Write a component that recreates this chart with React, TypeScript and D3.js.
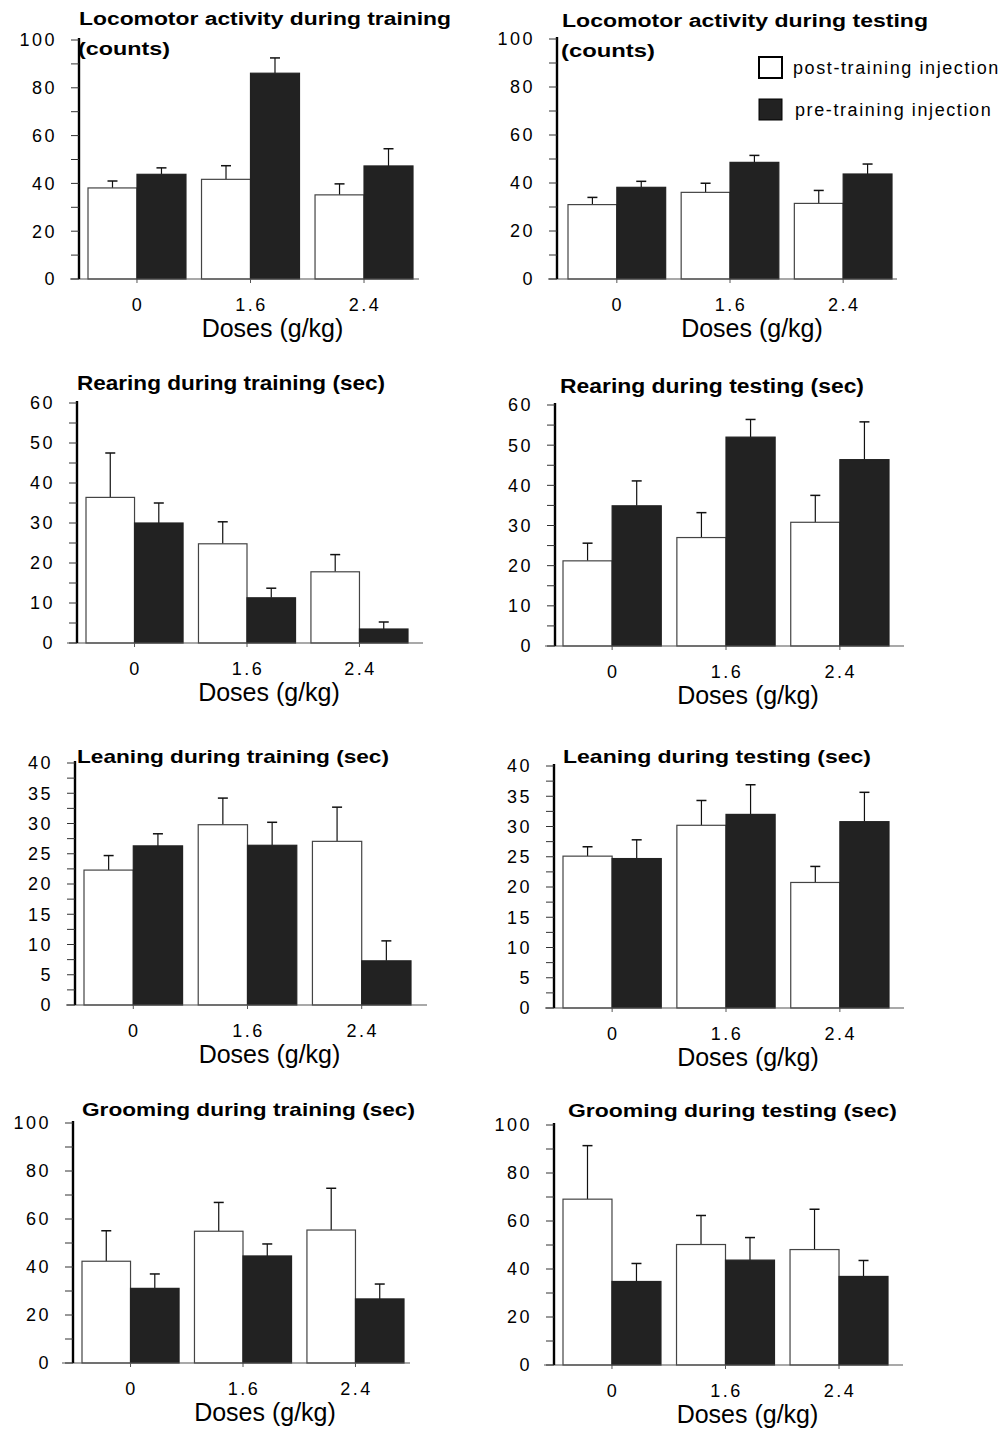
import React from "react";
import * as d3 from "d3";

// doses on the x axis
const doses = ["0", "1.6", "2.4"];

// locomotor activity (counts)
const locoTrainPost = [38.1, 41.7, 35.2];
const locoTrainPostErr = [2.9, 5.7, 4.6];
const locoTrainPre = [43.8, 86.1, 47.3];
const locoTrainPreErr = [2.7, 6.4, 7.2];

const locoTestPost = [31.0, 36.1, 31.5];
const locoTestPostErr = [3.0, 3.8, 5.4];
const locoTestPre = [38.2, 48.6, 43.75];
const locoTestPreErr = [2.5, 2.9, 4.15];

// rearing (sec)
const rearTrainPost = [36.4, 24.8, 17.8];
const rearTrainPostErr = [11.1, 5.5, 4.3];
const rearTrainPre = [30.0, 11.3, 3.5];
const rearTrainPreErr = [5.0, 2.4, 1.75];

const rearTestPost = [21.2, 27.0, 30.8];
const rearTestPostErr = [4.4, 6.2, 6.7];
const rearTestPre = [34.9, 52.0, 46.4];
const rearTestPreErr = [6.2, 4.4, 9.4];

// leaning (sec)
const leanTrainPost = [22.3, 29.8, 27.05];
const leanTrainPostErr = [2.4, 4.4, 5.65];
const leanTrainPre = [26.3, 26.4, 7.3];
const leanTrainPreErr = [2.0, 3.8, 3.3];

const leanTestPost = [25.1, 30.2, 20.75];
const leanTestPostErr = [1.55, 4.1, 2.65];
const leanTestPre = [24.7, 32.0, 30.8];
const leanTestPreErr = [3.1, 4.9, 4.85];

// grooming (sec)
const groomTrainPost = [42.4, 54.9, 55.4];
const groomTrainPostErr = [12.7, 12.0, 17.4];
const groomTrainPre = [31.1, 44.6, 26.7];
const groomTrainPreErr = [6.0, 5.0, 6.2];

const groomTestPost = [69.1, 50.2, 48.1];
const groomTestPostErr = [22.3, 12.1, 16.8];
const groomTestPre = [34.8, 43.7, 36.9];
const groomTestPreErr = [7.5, 9.4, 6.65];

// y axis ticks
const ticks100 = [0, 20, 40, 60, 80, 100];
const minor100 = d3.range(0, 101, 10);
const ticks60 = [0, 10, 20, 30, 40, 50, 60];
const minor60 = d3.range(0, 61, 5);
const ticks40 = [0, 5, 10, 15, 20, 25, 30, 35, 40];
const minor40 = d3.range(0, 40.1, 2.5);

const seriesNames = ["post-training injection", "pre-training injection"];

const FONT = "'Liberation Sans', Arial, Helvetica, sans-serif";
const DARK = "#222";

type Panel = {
  title: string[];
  titleX: number;
  titleY: number;
  titleW: number[];
  titleSize: number;
  post: number[];
  postErr: number[];
  pre: number[];
  preErr: number[];
  max: number;
  ticks: number[];
  minor: number[];
  axisX: number;
  yTop: number;
  y0: number;
  base: [number, number];
  band: [number, number];
};

const panels: Panel[] = [
  {
    title: ["Locomotor activity during training", "(counts)"], titleX: 79, titleY: 25, titleW: [372, 92], titleSize: 18,
    post: locoTrainPost, postErr: locoTrainPostErr, pre: locoTrainPre, preErr: locoTrainPreErr,
    max: 100, ticks: ticks100, minor: minor100,
    axisX: 79, yTop: 40, y0: 279, base: [70, 419], band: [88, 413],
  },
  {
    title: ["Locomotor activity during testing", "(counts)"], titleX: 562, titleY: 27, titleW: [366, 94], titleSize: 18,
    post: locoTestPost, postErr: locoTestPostErr, pre: locoTestPre, preErr: locoTestPreErr,
    max: 100, ticks: ticks100, minor: minor100,
    axisX: 557, yTop: 39, y0: 279, base: [548, 897], band: [568, 892],
  },
  {
    title: ["Rearing during training (sec)"], titleX: 77, titleY: 390, titleW: [308], titleSize: 20,
    post: rearTrainPost, postErr: rearTrainPostErr, pre: rearTrainPre, preErr: rearTrainPreErr,
    max: 60, ticks: ticks60, minor: minor60,
    axisX: 77, yTop: 403, y0: 643, base: [67, 423], band: [86, 408],
  },
  {
    title: ["Rearing during testing (sec)"], titleX: 560, titleY: 393, titleW: [304], titleSize: 20,
    post: rearTestPost, postErr: rearTestPostErr, pre: rearTestPre, preErr: rearTestPreErr,
    max: 60, ticks: ticks60, minor: minor60,
    axisX: 555, yTop: 405, y0: 646, base: [545, 904], band: [563, 889],
  },
  {
    title: ["Leaning during training (sec)"], titleX: 77, titleY: 763, titleW: [312], titleSize: 19,
    post: leanTrainPost, postErr: leanTrainPostErr, pre: leanTrainPre, preErr: leanTrainPreErr,
    max: 40, ticks: ticks40, minor: minor40,
    axisX: 75, yTop: 763, y0: 1005, base: [66, 427], band: [84, 411],
  },
  {
    title: ["Leaning during testing (sec)"], titleX: 563, titleY: 763, titleW: [308], titleSize: 19,
    post: leanTestPost, postErr: leanTestPostErr, pre: leanTestPre, preErr: leanTestPreErr,
    max: 40, ticks: ticks40, minor: minor40,
    axisX: 554, yTop: 766, y0: 1008, base: [545, 904], band: [563, 889],
  },
  {
    title: ["Grooming during training (sec)"], titleX: 82, titleY: 1116, titleW: [333], titleSize: 19,
    post: groomTrainPost, postErr: groomTrainPostErr, pre: groomTrainPre, preErr: groomTrainPreErr,
    max: 100, ticks: ticks100, minor: minor100,
    axisX: 73, yTop: 1123, y0: 1363, base: [62, 410], band: [82, 404],
  },
  {
    title: ["Grooming during testing (sec)"], titleX: 568, titleY: 1117, titleW: [329], titleSize: 19,
    post: groomTestPost, postErr: groomTestPostErr, pre: groomTestPre, preErr: groomTestPreErr,
    max: 100, ticks: ticks100, minor: minor100,
    axisX: 554, yTop: 1125, y0: 1365, base: [544, 903], band: [563, 888],
  },
];

const BarPanel = ({ p }: { p: Panel }) => {
  const x = d3.scaleBand<string>().domain(doses).range(p.band).paddingInner(0.137).paddingOuter(0);
  const inner = d3.scaleBand<string>().domain(["post", "pre"]).range([0, x.bandwidth()]);
  const y = d3.scaleLinear().domain([0, p.max]).range([p.y0, p.yTop]);
  const bw = inner.bandwidth();
  const mid = (d: string) => (x(d) as number) + x.bandwidth() / 2;

  const series = [
    { key: "post", vals: p.post, errs: p.postErr, fill: "#fff", stroke: "#444" },
    { key: "pre", vals: p.pre, errs: p.preErr, fill: DARK, stroke: DARK },
  ];

  return (
    <g>
      {/* title */}
      {p.title.map((t, i) => (
        <text key={t} x={p.titleX + (i > 0 ? -1 : 0)} y={p.titleY + i * 30} fontFamily={FONT}
          fontWeight="bold" fontSize={p.titleSize} textLength={p.titleW[i]} lengthAdjust="spacingAndGlyphs" fill="#000">
          {t}
        </text>
      ))}

      {/* bars */}
      {series.map(s => doses.map((d, i) => {
        const bx = (x(d) as number) + (inner(s.key) as number);
        const top = y(s.vals[i]);
        const et = y(s.vals[i] + s.errs[i]);
        const cx = bx + bw / 2;
        return (
          <g key={s.key + d}>
            <line x1={cx} x2={cx} y1={top} y2={et} stroke="#111" strokeWidth={1.2} />
            <line x1={cx - 5} x2={cx + 5} y1={et} y2={et} stroke="#111" strokeWidth={1.5} />
            <rect x={bx} y={top} width={bw} height={p.y0 - top} fill={s.fill} stroke={s.stroke} strokeWidth={1.2} />
          </g>
        );
      }))}

      {/* baseline with small dose ticks */}
      <line x1={p.base[0]} x2={p.base[1]} y1={p.y0} y2={p.y0} stroke="#555" strokeWidth={1.2} />
      {doses.map(d => (
        <line key={"t" + d} x1={mid(d)} x2={mid(d)} y1={p.y0} y2={p.y0 + 4} stroke="#555" strokeWidth={1} />
      ))}

      {/* y axis */}
      <line x1={p.axisX} x2={p.axisX} y1={p.yTop - 2} y2={p.y0} stroke="#000" strokeWidth={2.4} />
      {p.minor.map(v => (
        <line key={"m" + v} x1={p.axisX - 8} x2={p.axisX} y1={y(v)} y2={y(v)} stroke="#333" strokeWidth={1} />
      ))}
      {p.ticks.map(v => (
        <text key={"l" + v} x={p.axisX - 22} y={y(v)} dy="0.36em" textAnchor="end" fontFamily={FONT}
          fontSize={18} letterSpacing={2.5} fill="#000">
          {v}
        </text>
      ))}

      {/* x labels */}
      {doses.map(d => (
        <text key={"x" + d} x={mid(d) + 1} y={p.y0 + 32} textAnchor="middle" fontFamily={FONT}
          fontSize={18} letterSpacing={2.5} fill="#000">
          {d}
        </text>
      ))}
      <text x={mid(doses[1]) + 22} y={p.y0 + 58} textAnchor="middle" fontFamily={FONT} fontSize={25} fill="#000">
        Doses (g/kg)
      </text>
    </g>
  );
};

const Legend = () => {
  const ly = d3.scaleBand<string>().domain(seriesNames).range([57, 120]).paddingInner(0.5);
  return (
    <g>
      {seriesNames.map((n, i) => (
        <g key={n}>
          <rect x={759} y={ly(n) as number} width={23} height={ly.bandwidth()}
            fill={i === 0 ? "#fff" : DARK} stroke="#000" strokeWidth={i === 0 ? 2 : 1} />
          <text x={793 + i * 2} y={(ly(n) as number) + ly.bandwidth() / 2} dy="0.36em" fontFamily={FONT}
            fontSize={18} letterSpacing={1.6} fill="#000">
            {n}
          </text>
        </g>
      ))}
    </g>
  );
};

export default function App() {
  return (
    <svg width={1006} height={1433} style={{ position: "absolute", left: 0, top: 0, background: "#fff", display: "block" }}>
      <rect width={1006} height={1433} fill="#fff" />
      {panels.map((p, i) => <BarPanel key={i} p={p} />)}
      <Legend />
    </svg>
  );
}
